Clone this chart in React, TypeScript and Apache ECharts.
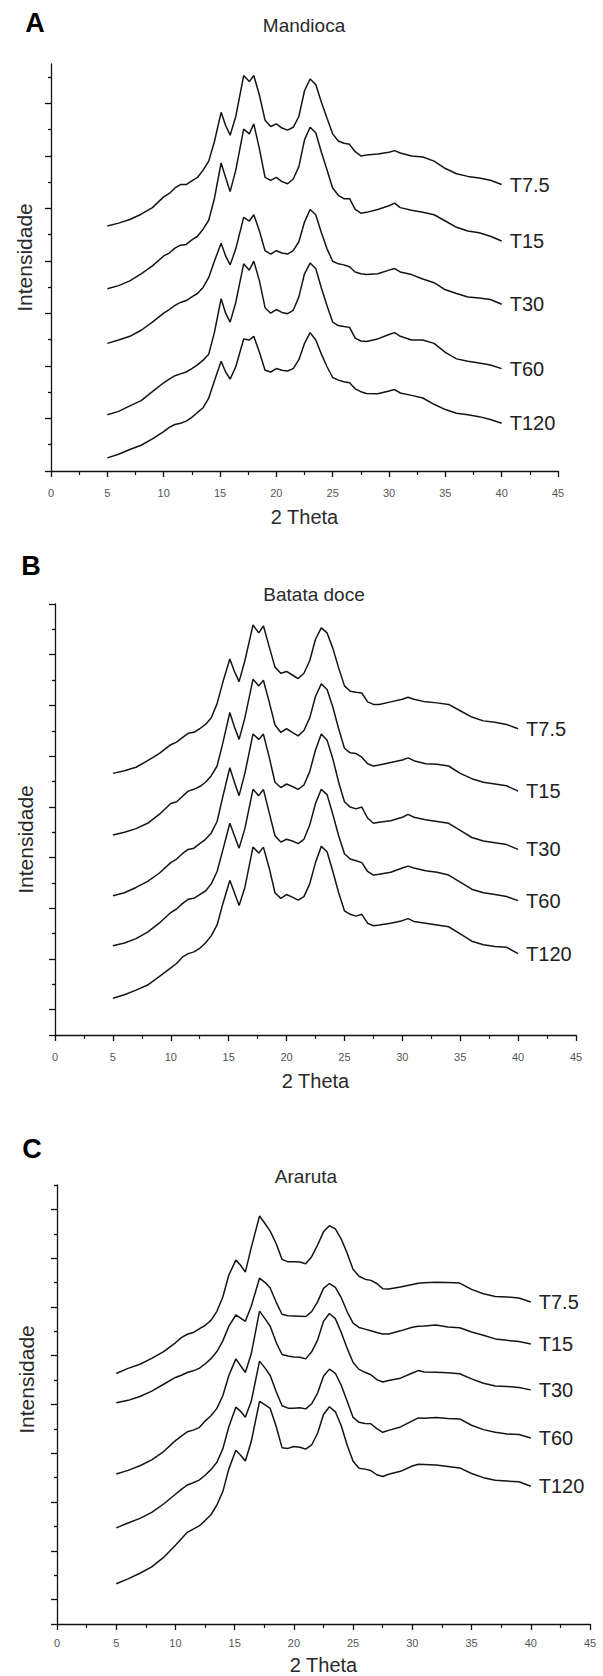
import React, { useEffect, useRef } from "react";
import * as echarts from "echarts";

const FONT = "'Liberation Sans', Arial, Helvetica, sans-serif";

// 2θ positions (degrees) shared by every diffractogram
const theta = [
  5, 6, 7, 8, 9, 10, 10.5, 11, 11.5, 12, 12.5, 13, 13.5, 14, 14.5, 15.1, 15.5, 15.9, 16.4, 17.1,
  17.6, 18, 18.5, 19, 19.5, 20, 20.5, 21, 21.5, 22, 22.5, 23, 23.5, 24, 24.5, 25, 25.5, 26, 26.5,
  27, 27.5, 28, 29, 30, 30.5, 31, 32, 33, 34, 35, 36, 37, 38, 39, 40,
];

const sampleNames = ["T7.5", "T15", "T30", "T60", "T120"];

// Mandioca (stacked intensities, arbitrary units)
const mandiocaT7_5 = [9.33, 9.44, 9.58, 9.78, 10.03, 10.44, 10.57, 10.78, 10.91, 10.91, 11.05, 11.18, 11.46, 11.8, 12.54, 13.66, 13.16, 12.79, 13.5, 15.06, 14.83, 15.06, 14.31, 13.36, 13.12, 13.22, 13.06, 12.98, 13.09, 13.5, 14.48, 14.93, 14.72, 14.04, 13.43, 12.84, 12.57, 12.48, 12.44, 12.16, 12.0, 12.03, 12.07, 12.14, 12.2, 12.11, 12.0, 11.96, 11.8, 11.52, 11.32, 11.22, 11.16, 11.07, 10.91];
const mandiocaT15 = [6.94, 7.06, 7.24, 7.51, 7.81, 8.19, 8.3, 8.49, 8.6, 8.63, 8.8, 8.94, 9.21, 9.55, 10.37, 11.73, 11.18, 10.64, 11.46, 13.02, 12.84, 13.22, 12.27, 11.18, 11.07, 11.18, 11.02, 10.94, 11.12, 11.59, 12.61, 13.09, 12.88, 12.14, 11.46, 10.78, 10.5, 10.37, 10.37, 9.96, 9.82, 9.85, 9.96, 10.1, 10.2, 10.03, 9.93, 9.85, 9.76, 9.52, 9.28, 9.14, 9.07, 8.94, 8.76];
const mandiocaT30 = [4.86, 4.99, 5.13, 5.36, 5.67, 6.01, 6.15, 6.31, 6.42, 6.49, 6.63, 6.76, 6.99, 7.37, 7.99, 8.67, 8.19, 7.85, 8.46, 9.66, 9.52, 9.76, 9.14, 8.39, 8.26, 8.39, 8.3, 8.26, 8.39, 8.73, 9.48, 9.96, 9.76, 9.07, 8.46, 7.99, 7.89, 7.85, 7.78, 7.58, 7.51, 7.48, 7.51, 7.65, 7.71, 7.58, 7.48, 7.31, 7.17, 6.9, 6.76, 6.63, 6.59, 6.53, 6.35];
const mandiocaT60 = [2.14, 2.27, 2.48, 2.68, 3.02, 3.36, 3.5, 3.63, 3.7, 3.77, 3.9, 4.04, 4.22, 4.45, 5.27, 6.56, 6.01, 5.67, 6.42, 7.89, 7.65, 7.99, 7.24, 6.22, 6.01, 6.15, 6.04, 5.99, 6.12, 6.63, 7.51, 7.92, 7.71, 6.97, 6.29, 5.67, 5.54, 5.5, 5.47, 5.06, 4.95, 4.93, 5.03, 5.2, 5.27, 5.13, 4.99, 4.99, 4.86, 4.52, 4.27, 4.18, 4.11, 4.04, 3.9];
const mandiocaT120 = [0.5, 0.64, 0.82, 0.98, 1.22, 1.5, 1.66, 1.77, 1.82, 1.9, 2.04, 2.23, 2.41, 2.78, 3.43, 4.18, 3.77, 3.5, 3.97, 5.03, 4.99, 5.13, 4.52, 3.84, 3.77, 3.9, 3.84, 3.81, 3.9, 4.24, 4.86, 5.27, 4.99, 4.45, 3.97, 3.56, 3.46, 3.4, 3.36, 3.13, 3.02, 2.95, 2.94, 3.05, 3.1, 2.97, 2.88, 2.78, 2.54, 2.34, 2.2, 2.14, 2.07, 1.96, 1.82];

// Batata doce
const batataT7_5 = [10.32, 10.42, 10.56, 10.82, 11.1, 11.45, 11.55, 11.73, 11.9, 11.94, 12.08, 12.25, 12.51, 13.07, 13.92, 14.83, 14.34, 13.94, 14.76, 16.17, 15.86, 16.14, 15.32, 14.51, 14.27, 14.34, 14.2, 14.06, 14.27, 14.76, 15.61, 16.06, 15.86, 15.25, 14.48, 13.77, 13.56, 13.52, 13.49, 13.14, 13.04, 13.04, 13.14, 13.24, 13.32, 13.24, 13.14, 13.1, 13.04, 12.79, 12.54, 12.39, 12.34, 12.25, 12.08];
const batataT15 = [7.89, 8.0, 8.14, 8.35, 8.7, 9.13, 9.2, 9.41, 9.62, 9.69, 9.8, 9.97, 10.23, 10.61, 11.52, 12.72, 12.15, 11.66, 12.51, 14.03, 13.77, 13.99, 13.14, 12.23, 11.94, 12.08, 11.94, 11.8, 12.01, 12.51, 13.35, 13.85, 13.63, 12.93, 12.08, 11.31, 11.13, 11.1, 10.96, 10.7, 10.61, 10.65, 10.75, 10.85, 10.93, 10.82, 10.7, 10.68, 10.61, 10.32, 10.11, 9.97, 9.9, 9.83, 9.62];
const batataT30 = [5.49, 5.61, 5.82, 6.06, 6.38, 6.8, 6.94, 7.15, 7.32, 7.37, 7.55, 7.72, 7.97, 8.42, 9.41, 10.54, 9.97, 9.44, 10.32, 11.87, 11.66, 11.87, 10.96, 9.97, 9.76, 9.9, 9.8, 9.69, 9.86, 10.39, 11.24, 11.87, 11.63, 10.89, 9.97, 9.2, 8.99, 8.92, 8.99, 8.56, 8.35, 8.39, 8.45, 8.59, 8.7, 8.59, 8.49, 8.42, 8.35, 8.07, 7.79, 7.65, 7.58, 7.51, 7.32];
const batataT60 = [3.52, 3.63, 3.8, 4.06, 4.41, 4.83, 4.97, 5.18, 5.35, 5.39, 5.54, 5.68, 5.96, 6.45, 7.3, 8.35, 7.86, 7.37, 8.14, 9.69, 9.44, 9.69, 8.77, 7.86, 7.61, 7.72, 7.65, 7.55, 7.72, 8.28, 9.13, 9.69, 9.48, 8.7, 7.86, 7.15, 6.94, 6.87, 6.8, 6.45, 6.31, 6.34, 6.42, 6.59, 6.66, 6.59, 6.48, 6.42, 6.31, 6.03, 5.75, 5.61, 5.54, 5.46, 5.3];
const batataT120 = [1.45, 1.59, 1.77, 1.97, 2.3, 2.65, 2.82, 3.07, 3.21, 3.28, 3.42, 3.63, 3.92, 4.34, 5.18, 6.1, 5.61, 5.11, 5.82, 7.41, 7.18, 7.41, 6.59, 5.61, 5.39, 5.54, 5.44, 5.32, 5.46, 5.96, 6.8, 7.44, 7.23, 6.45, 5.61, 4.9, 4.76, 4.69, 4.76, 4.41, 4.31, 4.34, 4.41, 4.51, 4.59, 4.48, 4.41, 4.34, 4.27, 3.99, 3.7, 3.56, 3.49, 3.46, 3.21];

// Araruta
const ararutaT7_5 = [10.27, 10.48, 10.65, 10.89, 11.17, 11.53, 11.74, 11.88, 11.95, 12.1, 12.24, 12.45, 12.82, 13.41, 14.3, 14.92, 14.71, 14.43, 15.43, 16.73, 16.39, 16.11, 15.6, 14.95, 14.85, 14.85, 14.84, 14.77, 15.06, 15.54, 16.08, 16.33, 16.2, 15.78, 15.2, 14.54, 14.26, 14.14, 14.09, 13.96, 13.75, 13.74, 13.82, 13.92, 13.97, 13.99, 14.01, 14.0, 13.98, 13.72, 13.54, 13.43, 13.41, 13.37, 13.2];
const ararutaT15 = [9.07, 9.17, 9.33, 9.55, 9.83, 10.11, 10.2, 10.31, 10.38, 10.48, 10.66, 10.88, 11.17, 11.61, 12.2, 12.67, 12.54, 12.41, 13.03, 14.18, 13.99, 13.78, 13.2, 12.7, 12.64, 12.63, 12.62, 12.61, 12.81, 13.21, 13.76, 13.96, 13.8, 13.38, 12.8, 12.34, 12.16, 12.09, 12.02, 11.95, 11.89, 11.89, 12.02, 12.17, 12.21, 12.22, 12.26, 12.18, 12.15, 11.97, 11.84, 11.69, 11.63, 11.58, 11.48];
const ararutaT30 = [6.15, 6.3, 6.49, 6.73, 7.07, 7.52, 7.7, 7.88, 7.95, 8.05, 8.32, 8.54, 8.84, 9.36, 10.18, 10.87, 10.59, 10.31, 11.08, 12.83, 12.49, 12.21, 11.55, 11.05, 10.99, 10.95, 10.94, 10.87, 11.16, 11.64, 12.41, 12.73, 12.52, 11.95, 11.3, 10.72, 10.44, 10.32, 10.22, 10.02, 9.92, 9.98, 10.08, 10.29, 10.39, 10.33, 10.32, 10.3, 10.26, 10.05, 9.87, 9.76, 9.74, 9.7, 9.6];
const ararutaT60 = [3.94, 4.14, 4.33, 4.58, 4.92, 5.32, 5.52, 5.7, 5.79, 5.9, 6.1, 6.33, 6.63, 7.18, 8.08, 8.89, 8.72, 8.48, 9.13, 10.78, 10.47, 10.19, 9.53, 8.95, 8.85, 8.85, 8.87, 8.82, 9.03, 9.47, 10.16, 10.45, 10.28, 9.78, 9.13, 8.47, 8.27, 8.22, 8.21, 8.01, 7.86, 7.94, 8.08, 8.33, 8.45, 8.44, 8.47, 8.43, 8.41, 8.15, 7.97, 7.86, 7.79, 7.77, 7.63];
const ararutaT120 = [1.65, 1.85, 2.08, 2.34, 2.73, 3.23, 3.5, 3.76, 3.89, 4.02, 4.24, 4.48, 4.88, 5.43, 6.35, 7.12, 6.92, 6.68, 7.48, 9.13, 8.97, 8.84, 8.11, 7.23, 7.2, 7.28, 7.25, 7.17, 7.34, 7.82, 8.59, 8.91, 8.7, 8.13, 7.33, 6.67, 6.39, 6.35, 6.29, 6.12, 6.05, 6.14, 6.26, 6.48, 6.55, 6.54, 6.52, 6.46, 6.4, 6.17, 6.0, 5.89, 5.86, 5.83, 5.65];

// y-axis tick positions (no labels are printed on the intensity axis)
const majorTicksA = [0, 2, 4, 6, 8, 10, 12, 14];
const minorTicksA = [1, 3, 5, 7, 9, 11, 13, 15];
const majorTicksB = [0, 1, 3, 5, 7, 9, 11, 13, 15, 17];
const minorTicksB = [2, 4, 6, 8, 10, 12, 14, 16];
const majorTicksC = [0, 1, 3, 5, 7, 9, 11, 13, 15, 17];
const minorTicksC = [2, 4, 6, 8, 10, 12, 14, 16, 18];

const panels = [
  {
    letter: "A", title: "Mandioca",
    curves: [mandiocaT7_5, mandiocaT15, mandiocaT30, mandiocaT60, mandiocaT120],
    yMax: 15.5, majors: majorTicksA, minors: minorTicksA,
    rect: { left: 51, top: 64, width: 507, height: 407 },
    letterAt: [35, 23], titleAt: [304, 25], yNameGap: 16, yNamePad: [0, 0, 0, 20],
    xNameGap: 36, xLabelMargin: 16,
  },
  {
    letter: "B", title: "Batata doce",
    curves: [batataT7_5, batataT15, batataT30, batataT60, batataT120],
    yMax: 17, majors: majorTicksB, minors: minorTicksB,
    rect: { left: 55, top: 604, width: 521, height: 431 },
    letterAt: [31, 566], titleAt: [314, 594], yNameGap: 19, yNamePad: [0, 40, 0, 0],
    xNameGap: 36, xLabelMargin: 16,
  },
  {
    letter: "C", title: "Araruta",
    curves: [ararutaT7_5, ararutaT15, ararutaT30, ararutaT60, ararutaT120],
    yMax: 18, majors: majorTicksC, minors: minorTicksC,
    rect: { left: 57, top: 1185, width: 533, height: 439 },
    letterAt: [32, 1149], titleAt: [306, 1176], yNameGap: 20, yNamePad: [0, 0, 0, 50],
    xNameGap: 31, xLabelMargin: 13,
  },
];

const AXIS = { color: "#111", width: 1.3 };

function buildOption() {
  const n = panels.length;
  const grid: any[] = [];
  const xAxis: any[] = [];
  const yAxis: any[] = [];
  const series: any[] = [];
  const graphic: any[] = [];

  panels.forEach((p, i) => {
    grid.push({ ...p.rect, containLabel: false });
    xAxis.push({
      gridIndex: i,
      type: "value",
      min: 0,
      max: 45,
      interval: 5,
      name: "2 Theta",
      nameLocation: "middle",
      nameGap: p.xNameGap,
      nameTextStyle: { fontFamily: FONT, fontSize: 20, color: "#2a2a2a" },
      axisLine: { onZero: false, lineStyle: AXIS },
      axisTick: { length: 6, lineStyle: AXIS },
      minorTick: { show: true, splitNumber: 2, length: 4, lineStyle: { color: "#111", width: 1.2 } },
      axisLabel: { margin: p.xLabelMargin, fontFamily: FONT, fontSize: 11, color: "#555" },
      splitLine: { show: false },
      minorSplitLine: { show: false },
    });
    yAxis.push({
      gridIndex: i,
      type: "value",
      min: 0,
      max: p.yMax,
      position: "left",
      name: "Intensidade",
      nameLocation: "middle",
      nameRotate: 90,
      nameGap: p.yNameGap,
      nameTextStyle: { fontFamily: FONT, fontSize: 21, color: "#2a2a2a", padding: p.yNamePad },
      axisLine: { show: true, onZero: false, lineStyle: AXIS },
      axisTick: { show: true, length: 6, customValues: p.majors, lineStyle: AXIS },
      axisLabel: { show: false },
      splitLine: { show: false },
    });
    p.curves.forEach((vals, k) => {
      series.push({
        type: "line",
        name: sampleNames[k],
        xAxisIndex: i,
        yAxisIndex: i,
        data: theta.map((x, j) => [x, vals[j]]),
        symbol: "none",
        showSymbol: false,
        silent: true,
        lineStyle: { color: "#141414", width: 1.5 },
        endLabel: {
          show: true,
          formatter: "{a}",
          distance: 8,
          fontFamily: FONT,
          fontSize: 20,
          color: "#222",
        },
      });
    });
    graphic.push({
      type: "text",
      x: p.letterAt[0],
      y: p.letterAt[1],
      style: {
        text: p.letter, fontFamily: FONT, fontSize: 27, fontWeight: "bold",
        fill: "#000", align: "center", verticalAlign: "middle",
      },
    });
    graphic.push({
      type: "text",
      x: p.titleAt[0],
      y: p.titleAt[1],
      style: {
        text: p.title, fontFamily: FONT, fontSize: 19,
        fill: "#2a2a2a", align: "center", verticalAlign: "middle",
      },
    });
  });

  // overlay grids carrying only the shorter intermediate ticks of the intensity axis
  panels.forEach((p, i) => {
    grid.push({ ...p.rect, containLabel: false });
    xAxis.push({ gridIndex: n + i, type: "value", min: 0, max: 45, show: false });
    yAxis.push({
      gridIndex: n + i,
      type: "value",
      min: 0,
      max: p.yMax,
      position: "left",
      axisLine: { show: false },
      axisTick: { show: true, length: 3, customValues: p.minors, lineStyle: AXIS },
      axisLabel: { show: false },
      splitLine: { show: false },
    });
  });

  return {
    animation: false,
    backgroundColor: "#fff",
    grid,
    xAxis,
    yAxis,
    series,
    graphic,
  };
}

export default function App() {
  const ref = useRef<HTMLDivElement>(null);
  useEffect(() => {
    if (!ref.current) return;
    const chart = echarts.init(ref.current, null, { renderer: "svg" });
    chart.setOption(buildOption());
    return () => chart.dispose();
  }, []);
  return (
    <div
      ref={ref}
      style={{ position: "absolute", left: 0, top: 0, width: 603, height: 1676, background: "#fff" }}
    />
  );
}
